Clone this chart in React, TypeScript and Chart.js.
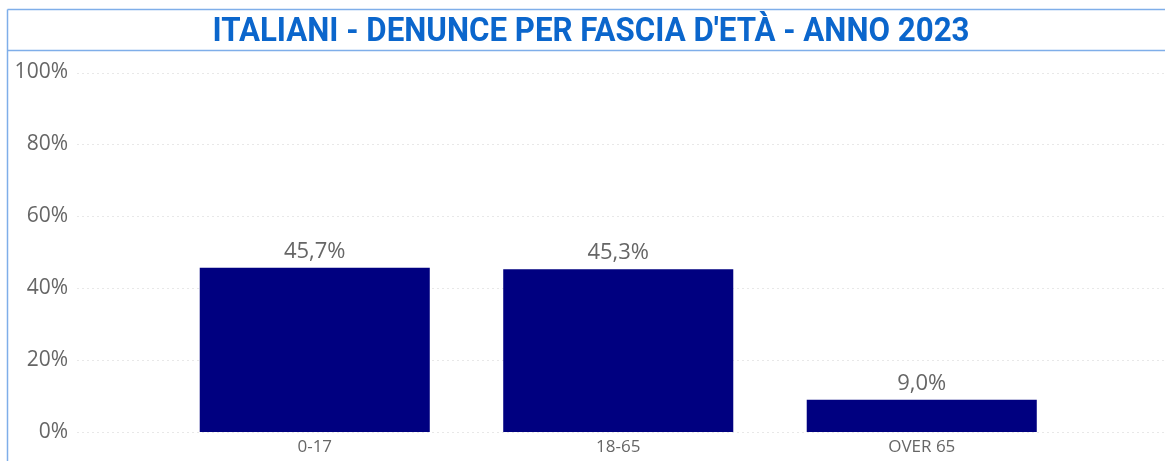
import React, { useEffect, useRef } from "react";
import { Chart, registerables } from "chart.js";

Chart.register(...registerables);

const TITLE = "ITALIANI - DENUNCE PER FASCIA D'ETÀ - ANNO 2023";
const categories = ["0-17", "18-65", "OVER 65"];
const values = [45.7, 45.3, 9.0];
const yTicks = [0, 20, 40, 60, 80, 100];

const frameColor = "#7FAEE9";
const titleColor = "#0B66CC";
const barColor = "#000080";
const textGrey = "#666666";

const framePlugin = {
  id: "frameAndTitle",
  beforeDraw(chart: any) {
    const ctx = chart.ctx;
    const w = chart.width;
    const h = chart.height;
    ctx.save();
    ctx.fillStyle = "#ffffff";
    ctx.fillRect(0, 0, w, h);
    ctx.strokeStyle = frameColor;
    ctx.lineWidth = 1.5;
    ctx.beginPath();
    ctx.moveTo(7.5, 9.5);
    ctx.lineTo(w, 9.5);
    ctx.moveTo(7.5, 50.5);
    ctx.lineTo(w, 50.5);
    ctx.moveTo(7.5, 9.5);
    ctx.lineTo(7.5, h);
    ctx.stroke();
    ctx.fillStyle = titleColor;
    ctx.font = "bold 33px Roboto";
    ctx.textAlign = "center";
    ctx.textBaseline = "alphabetic";
    ctx.fillText(TITLE, 591, 41, 757);
    ctx.restore();
  },
};

const gridPlugin = {
  id: "wideGrid",
  beforeDatasetsDraw(chart: any) {
    const ctx = chart.ctx;
    const y = chart.scales.y;
    ctx.save();
    ctx.strokeStyle = "#E8E8E8";
    ctx.lineWidth = 1;
    ctx.setLineDash([2, 3]);
    y.ticks.forEach((t: any) => {
      const py = Math.round(y.getPixelForValue(t.value)) + 0.5;
      ctx.beginPath();
      ctx.moveTo(77, py);
      ctx.lineTo(chart.width, py);
      ctx.stroke();
    });
    ctx.restore();
  },
};

const labelPlugin = {
  id: "valueLabels",
  afterDatasetsDraw(chart: any) {
    const ctx = chart.ctx;
    const meta = chart.getDatasetMeta(0);
    ctx.save();
    ctx.fillStyle = textGrey;
    ctx.font = "22px 'Open Sans'";
    ctx.textAlign = "center";
    ctx.textBaseline = "alphabetic";
    meta.data.forEach((bar: any, i: number) => {
      const txt = values[i].toFixed(1).replace(".", ",") + "%";
      ctx.fillText(txt, bar.x, bar.y - 10);
    });
    ctx.restore();
  },
};

export default function App() {
  const ref = useRef<HTMLCanvasElement | null>(null);

  useEffect(() => {
    if (!ref.current) return;
    const chart = new Chart(ref.current, {
      type: "bar",
      data: {
        labels: categories,
        datasets: [
          {
            data: values,
            backgroundColor: barColor,
            borderWidth: 0,
            categoryPercentage: 1,
            barPercentage: 0.758,
          },
        ],
      },
      options: {
        animation: false,
        responsive: false,
        devicePixelRatio: 1,
        layout: { padding: { top: 72.5, right: 91.5, bottom: 0, left: 0 } },
        plugins: {
          legend: { display: false },
          title: { display: false },
          tooltip: { enabled: false },
        },
        scales: {
          x: {
            afterFit(scale: any) {
              scale.height = 29;
            },
            grid: { display: false, drawTicks: false },
            border: { display: false },
            ticks: {
              color: textGrey,
              font: { family: "'Open Sans'", size: 17 },
              padding: 5,
            },
          },
          y: {
            min: 0,
            max: 100,
            afterFit(scale: any) {
              scale.width = 163;
              scale.paddingTop = 14;
              scale.paddingBottom = 14;
            },
            afterBuildTicks(scale: any) {
              scale.ticks = yTicks.map((v) => ({ value: v }));
            },
            grid: { display: false, drawTicks: false },
            border: { display: false },
            ticks: {
              color: textGrey,
              font: { family: "'Open Sans'", size: 21 },
              padding: 95,
              callback: (v: any) => v + "%",
            },
          },
        },
      },
      plugins: [framePlugin, gridPlugin, labelPlugin],
    });
    return () => chart.destroy();
  }, []);

  return (
    <div style={{ position: "absolute", left: 0, top: 0, width: 1165, height: 461 }}>
      <canvas ref={ref} width={1165} height={461} style={{ display: "block" }} />
    </div>
  );
}
